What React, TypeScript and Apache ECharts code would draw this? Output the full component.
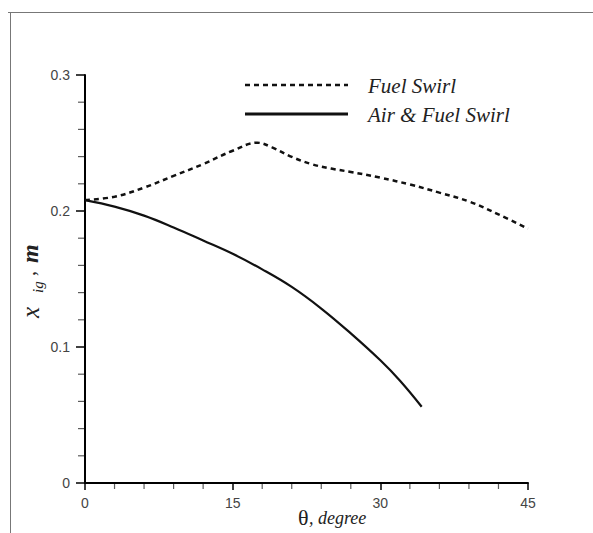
import React, { useEffect, useRef } from "react";
import * as echarts from "echarts";

const thetaFuel = [0, 3, 6, 9, 12, 15, 17.5, 19, 21, 23, 25, 27, 30, 33, 36, 39, 42, 45];
const fuelSwirl = [0.208, 0.2105, 0.2172, 0.2258, 0.2345, 0.2443, 0.2502, 0.2468, 0.2398, 0.2345, 0.2312, 0.2287, 0.2245, 0.2195, 0.2135, 0.207, 0.1975, 0.187];
const thetaAirFuel = [0, 3, 6, 9, 12, 15, 18, 21, 24, 27, 30, 32, 34.2];
const airFuelSwirl = [0.208, 0.2032, 0.1966, 0.1879, 0.1783, 0.1685, 0.1571, 0.1442, 0.1283, 0.11, 0.0902, 0.0752, 0.0561];
const seriesNames = ["Fuel Swirl", "Air & Fuel Swirl"];
const minorTicksTheta = [3, 6, 9, 12, 18, 21, 24, 27, 33, 36, 39, 42];
const minorTicksValue = [0.02, 0.04, 0.06, 0.08, 0.12, 0.14, 0.16, 0.18, 0.22, 0.24, 0.26, 0.28];

export default function App() {
  const ref = useRef<HTMLDivElement>(null);
  useEffect(() => {
    if (!ref.current) return;
    const chart = echarts.init(ref.current, null, { renderer: "svg" });
    const serif = "Liberation Serif";
    const sans = "Liberation Sans";
    chart.setOption({
      animation: false,
      backgroundColor: "#ffffff",
      grid: { left: 85, right: 65, top: 75, bottom: 50, containLabel: false },
      xAxis: {
        type: "value",
        min: 0,
        max: 45,
        interval: 15,
        axisLine: { show: true, onZero: false, lineStyle: { color: "#000", width: 2 } },
        axisTick: { show: true, length: 7, lineStyle: { color: "#000", width: 1.5 } },
        splitLine: { show: false },
        axisLabel: { margin: 13, fontFamily: sans, fontSize: 14, color: "#444" },
      },
      yAxis: {
        type: "value",
        min: 0,
        max: 0.3,
        interval: 0.1,
        axisLine: { show: true, onZero: false, lineStyle: { color: "#000", width: 2 } },
        axisTick: { show: true, length: 9, lineStyle: { color: "#000", width: 1.5 } },
        splitLine: { show: false },
        axisLabel: {
          margin: 15,
          fontFamily: sans,
          fontSize: 14,
          color: "#444",
          formatter: (v: number) => (v === 0 ? "0" : String(Math.round(v * 10) / 10)),
        },
      },
      series: [
        {
          name: seriesNames[0],
          type: "line",
          smooth: 0.4,
          showSymbol: false,
          symbol: "none",
          lineStyle: { color: "#111", width: 2.5, type: [5, 4] },
          data: thetaFuel.map((t, i) => [t, fuelSwirl[i]]),
        },
        {
          name: seriesNames[1],
          type: "line",
          smooth: 0.4,
          showSymbol: false,
          symbol: "none",
          lineStyle: { color: "#111", width: 2.2, type: "solid" },
          data: thetaAirFuel.map((t, i) => [t, airFuelSwirl[i]]),
        },
        {
          name: "minorTicksX",
          type: "scatter",
          silent: true,
          clip: false,
          symbol: "rect",
          symbolSize: [1.2, 5],
          symbolOffset: [0, 3.5],
          itemStyle: { color: "#333" },
          z: 5,
          data: minorTicksTheta.map((t) => [t, 0]),
        },
        {
          name: "minorTicksY",
          type: "scatter",
          silent: true,
          clip: false,
          symbol: "rect",
          symbolSize: [6, 1.2],
          symbolOffset: [-4, 0],
          itemStyle: { color: "#333" },
          z: 5,
          data: minorTicksValue.map((v) => [0, v]),
        },
      ],
      graphic: [
        {
          type: "line",
          shape: { x1: 8, y1: 12.5, x2: 593, y2: 12.5 },
          style: { stroke: "#777", lineWidth: 1 },
          silent: true,
        },
        {
          type: "line",
          shape: { x1: 10.5, y1: 12, x2: 10.5, y2: 533 },
          style: { stroke: "#777", lineWidth: 1 },
          silent: true,
        },
        {
          type: "line",
          shape: { x1: 245, y1: 85, x2: 348, y2: 85 },
          style: { stroke: "#111", lineWidth: 2.5, lineDash: [5, 4] },
          silent: true,
        },
        {
          type: "text",
          x: 368,
          y: 86,
          style: { text: seriesNames[0], fontFamily: serif, fontStyle: "italic", fontSize: 21, fill: "#222", textAlign: "left", textVerticalAlign: "middle" },
        },
        {
          type: "line",
          shape: { x1: 245, y1: 114, x2: 348, y2: 114 },
          style: { stroke: "#111", lineWidth: 3 },
          silent: true,
        },
        {
          type: "text",
          x: 368,
          y: 115,
          style: { text: seriesNames[1], fontFamily: serif, fontStyle: "italic", fontSize: 21, fill: "#222", textAlign: "left", textVerticalAlign: "middle" },
        },
        {
          type: "text",
          x: 298,
          y: 528,
          style: { text: "θ", fontFamily: serif, fontSize: 22, fill: "#222", textAlign: "left", textVerticalAlign: "bottom" },
        },
        {
          type: "text",
          x: 309,
          y: 527,
          style: { text: ", degree", fontFamily: serif, fontStyle: "italic", fontSize: 18, fill: "#222", textAlign: "left", textVerticalAlign: "bottom" },
        },
        {
          type: "group",
          x: 30,
          y: 280,
          rotation: Math.PI / 2,
          children: [
            {
              type: "text",
              x: -38,
              y: 0,
              style: { text: "x", fontFamily: serif, fontStyle: "italic", fontSize: 25, fill: "#222", textAlign: "left", textVerticalAlign: "middle" },
            },
            {
              type: "text",
              x: -13,
              y: 8,
              style: { text: "ig", fontFamily: serif, fontStyle: "italic", fontSize: 15, fill: "#222", textAlign: "left", textVerticalAlign: "middle" },
            },
            {
              type: "text",
              x: 4,
              y: -2,
              style: { text: ",", fontFamily: serif, fontStyle: "italic", fontSize: 20, fill: "#222", textAlign: "left", textVerticalAlign: "middle" },
            },
            {
              type: "text",
              x: 17,
              y: 0,
              style: { text: "m", fontFamily: serif, fontStyle: "italic", fontWeight: "bold", fontSize: 24, fill: "#222", textAlign: "left", textVerticalAlign: "middle" },
            },
          ],
        },
      ],
    });
    return () => chart.dispose();
  }, []);
  return <div ref={ref} style={{ position: "fixed", left: 0, top: 0, width: 593, height: 533 }} />;
}
